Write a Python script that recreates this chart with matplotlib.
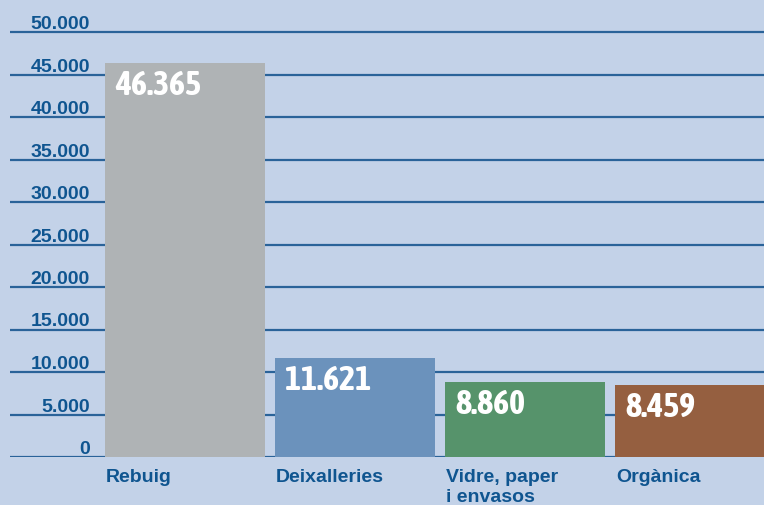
import matplotlib
matplotlib.use("Agg")
import matplotlib.pyplot as plt
import matplotlib.transforms as mtransforms
from matplotlib import font_manager as fm

categories = ["Rebuig", "Deixalleries", "Vidre, paper\ni envasos", "Orgànica"]
values = [46365, 11621, 8860, 8459]
value_labels = ["46.365", "11.621", "8.860", "8.459"]
yticks = [0, 5000, 10000, 15000, 20000, 25000, 30000, 35000, 40000, 45000, 50000]
ytick_labels = ["0", "5.000", "10.000", "15.000", "20.000", "25.000", "30.000",
                "35.000", "40.000", "45.000", "50.000"]

bg = "#c3d2e8"
line_c = "#2a6399"
text_c = "#0f5590"
bar_colors = ["#afb3b5", "#6b92bc", "#56936b", "#955f40"]

# find a condensed / narrow bold face if installed
narrow = None
for f in fm.fontManager.ttflist:
    n = f.name
    if ("Narrow" in n or "Condensed" in n) and ("Bold" in n or f.weight in ("bold", 700)):
        narrow = f.fname
        break
if narrow is None:
    for f in fm.fontManager.ttflist:
        if "Narrow" in f.name or "Condensed" in f.name or f.stretch in ("condensed", "semi-condensed"):
            narrow = f.fname
            break

W, H = 764, 506
fig = plt.figure(figsize=(W / 100, H / 100), dpi=100)
fig.patch.set_facecolor(bg)
ax = fig.add_axes([10 / W, (H - 458) / H, 1 - 10 / W, 458 / H])
ax.set_facecolor(bg)
ax.set_ylim(0, 458 / 42.5 * 5000)
ax.set_xlim(-175 / 170, -175 / 170 + 754 / 170)
for s in ax.spines.values():
    s.set_visible(False)
ax.set_xticks([])
ax.set_yticks([])

for t in yticks:
    ax.axhline(t, color=line_c, lw=1.6, zorder=1)

xs = list(range(len(categories)))
bw = 160 / 170
bars = ax.bar(xs, values, width=bw, color=bar_colors, zorder=2)

lab_font = ["Liberation Sans", "DejaVu Sans"]
ytrans = mtransforms.blended_transform_factory(fig.transFigure, ax.transData)
for t, lab in zip(yticks, ytick_labels):
    tr = mtransforms.offset_copy(ytrans, fig=fig, x=0, y=4, units="dots")
    ax.text(90 / W, t, lab, transform=tr, ha="right", va="baseline",
            fontsize=14, fontweight="bold", color=text_c, family=lab_font)

if narrow is not None:
    vprops = dict(fontproperties=fm.FontProperties(fname=narrow, size=24.5, weight="bold"))
else:
    vprops = dict(fontsize=21, fontweight="bold", family=["Liberation Sans", "DejaVu Sans"])

for x, v, vl, cat in zip(xs, values, value_labels, categories):
    left = x - bw / 2
    tr = mtransforms.offset_copy(ax.transData, fig=fig, x=10, y=-5, units="dots")
    ax.text(left, v, vl, transform=tr, ha="left", va="top",
            color="white", zorder=3, **vprops)
    tr2 = mtransforms.offset_copy(ax.transData, fig=fig, x=1, y=-11, units="dots")
    ax.text(left, 0, cat, transform=tr2, ha="left", va="top", fontsize=14,
            fontweight="bold", color=text_c, family=lab_font, linespacing=1.2,
            clip_on=False)

fig.savefig("out.png", dpi=100, facecolor=bg)
